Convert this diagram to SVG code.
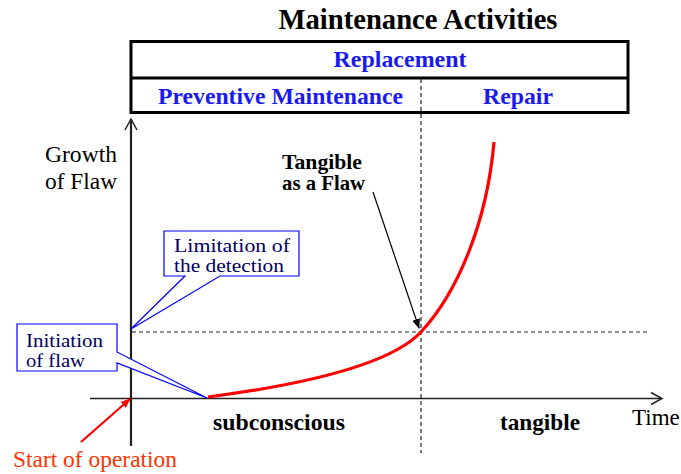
<svg xmlns="http://www.w3.org/2000/svg" width="681" height="474" viewBox="0 0 681 474">
<defs>
<style>
.serif{font-family:"Liberation Serif","Times New Roman",serif}
.b{font-weight:bold}
.blue{fill:#1a1aee}
.navy{fill:#000066}
.axis{stroke:#222;fill:none}
.dash{stroke:#222;stroke-width:1.2;stroke-dasharray:4 3;fill:none}
.callout{fill:#fff;stroke:#0000ff;stroke-width:1.2}
</style>
<marker id="ahBlack" viewBox="0 0 10 10" refX="9" refY="5" markerWidth="10" markerHeight="10" markerUnits="userSpaceOnUse" orient="auto">
<path d="M0,1 L10,5 L0,9 Z" fill="#000"/>
</marker>
<marker id="ahRed" viewBox="0 0 10 10" refX="9" refY="5" markerWidth="10" markerHeight="10" markerUnits="userSpaceOnUse" orient="auto">
<path d="M0,1 L10,5 L0,9 Z" fill="#ff0000"/>
</marker>
</defs>
<rect width="681" height="474" fill="#fff"/>

<g id="title">
<text class="serif b" x="418" y="29" font-size="28.5" text-anchor="middle" textLength="279" lengthAdjust="spacingAndGlyphs">Maintenance Activities</text>
</g>

<g id="activities">
<rect x="131" y="41.5" width="497" height="71" fill="#fff" stroke="#000" stroke-width="3"/>
<line x1="131" y1="78" x2="628" y2="78" stroke="#000" stroke-width="3"/>
<text class="serif b blue" x="400" y="67" font-size="23.5" text-anchor="middle" textLength="133" lengthAdjust="spacingAndGlyphs">Replacement</text>
<text class="serif b blue" x="158" y="104" font-size="23.5" textLength="245" lengthAdjust="spacingAndGlyphs">Preventive Maintenance</text>
<text class="serif b blue" x="518" y="104" font-size="23.5" text-anchor="middle" textLength="70" lengthAdjust="spacingAndGlyphs">Repair</text>
</g>

<g id="connectors">
<line class="dash" x1="421" y1="79" x2="421" y2="453"/>
<line class="dash" x1="132" y1="332" x2="650" y2="332"/>
<line class="axis" x1="131" y1="119" x2="131" y2="446" stroke-width="2.2"/>
<polyline class="axis" points="125,130 131,119 137,130" stroke-width="1.5"/>
<line class="axis" x1="90" y1="398.5" x2="661" y2="398.5" stroke-width="1.6"/>
<polyline class="axis" points="651,392.5 662,398.5 651,404.5" stroke-width="1.5"/>
<path d="M208,397 C300,385 390,365 421,332 C458,292 487,222 494,142" fill="none" stroke="#ff0000" stroke-width="3.2"/>
<line x1="373" y1="192" x2="419" y2="328" stroke="#000" stroke-width="1.2" marker-end="url(#ahBlack)"/>
<line x1="81" y1="442" x2="130" y2="399" stroke="#ff0000" stroke-width="2.2" marker-end="url(#ahRed)"/>
</g>

<g id="y-label">
<text class="serif" x="117" y="162" font-size="23.5" text-anchor="end" textLength="72" lengthAdjust="spacingAndGlyphs">Growth</text>
<text class="serif" x="117" y="189" font-size="23.5" text-anchor="end" textLength="72" lengthAdjust="spacingAndGlyphs">of Flaw</text>
</g>

<g id="tangible-label">
<text class="serif b" x="282" y="169" font-size="20.5" textLength="80" lengthAdjust="spacingAndGlyphs">Tangible</text>
<text class="serif b" x="282" y="190" font-size="20.5" textLength="83" lengthAdjust="spacingAndGlyphs">as a Flaw</text>
</g>

<g id="limitation">
<path class="callout" d="M164,231 H299 V276 H220 L131,329 L185,276 H164 Z"/>
<text class="serif navy" x="174" y="252" font-size="19.5" textLength="116" lengthAdjust="spacingAndGlyphs">Limitation  of</text>
<text class="serif navy" x="174" y="272" font-size="19.5" textLength="110" lengthAdjust="spacingAndGlyphs">the detection</text>
</g>

<g id="initiation">
<path class="callout" d="M17,324 H117 V352 L207,398 L117,363 V371 H17 Z"/>
<text class="serif navy" x="26" y="347" font-size="19.5" textLength="77" lengthAdjust="spacingAndGlyphs">Initiation</text>
<text class="serif navy" x="26" y="367" font-size="19.5" textLength="59" lengthAdjust="spacingAndGlyphs">of flaw</text>
</g>

<g id="start">
<text class="serif" x="13" y="467" font-size="23.5" fill="#ff3300" textLength="164" lengthAdjust="spacingAndGlyphs">Start of operation</text>
</g>

<g id="phases">
<text class="serif b" x="213" y="430" font-size="23.5" textLength="132" lengthAdjust="spacingAndGlyphs">subconscious</text>
<text class="serif b" x="500" y="430" font-size="23.5" textLength="80" lengthAdjust="spacingAndGlyphs">tangible</text>
<text class="serif" x="632" y="425" font-size="23">Time</text>
</g>
</svg>
